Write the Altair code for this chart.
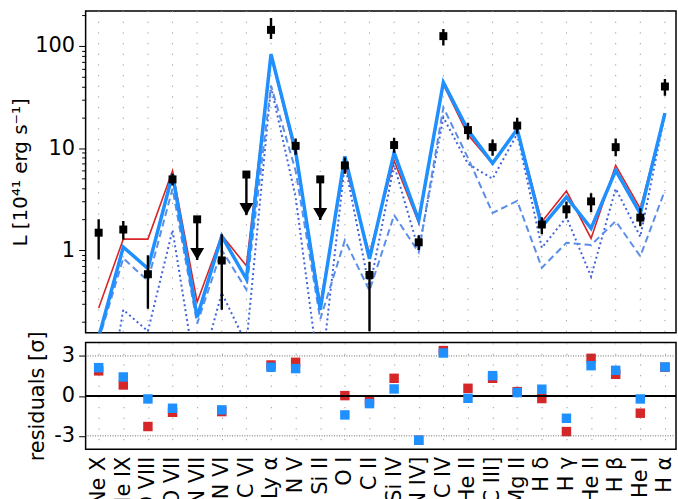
import altair as alt
import pandas as pd

# ---------------- data ----------------
line_names = ["Ne X", "Ne IX", "O VIII", "O VII", "N VII", "N VI", "C VI", "Ly α",
              "N V", "Si II", "O I", "C II", "Si IV", "N IV]", "C IV", "He II",
              "C III]", "Mg II", "H δ", "H γ", "He II", "H β", "He I", "H α"]

# observed luminosities (10^41 erg/s); upper limits flagged
obs_val = [1.48, 1.59, 0.58, 4.93, 2.0, 0.79, 5.5, 144, 10.5, 4.93, 6.75, 0.57,
           10.7, 1.19, 125, 15.0, 10.2, 16.6, 1.78, 2.51, 3.0, 10.2, 2.08, 40.1]
obs_lo = [0.81, 1.27, 0.266, 4.3, None, 0.26, None, 117, 8.6, None, 5.6, 0.16,
          9.0, 1.0, 101, 12.1, 8.4, 13.8, 1.43, 2.05, 2.35, 8.3, 1.71, 32.5]
obs_hi = [2.0, 1.93, 0.89, 5.6, None, 1.43, None, 188, 12.4, None, 8.1, 0.77,
          12.6, 1.4, 147, 17.7, 12.1, 19.8, 2.1, 3.0, 3.6, 12.4, 2.57, 47.5]
upper_limit = [False, False, False, False, True, False, True, False, False, True,
               False, False, False, False, False, False, False, False, False,
               False, False, False, False, False]

# models
model_red = [0.27, 1.28, 1.28, 6.0, 0.31, 1.40, 0.70, 80, 8.5, 0.30, 7.0, 0.92,
             7.5, 1.85, 42, 13.5, 7.0, 15.5, 1.89, 3.79, 1.30, 6.75, 2.55, 22]
model_blue = [0.14, 1.07, 0.66, 5.5, 0.22, 1.37, 0.52, 83, 9.3, 0.26, 8.3, 0.82,
              9.0, 1.96, 44, 15.0, 7.1, 15.3, 1.69, 3.31, 1.63, 6.03, 2.28, 22]
comp_dashed = [0.13, 0.83, 0.50, 4.0, 0.19, 1.0, 0.41, 41, 6.0, 0.21, 1.25, 0.40,
               2.2, 0.95, 25, 8.0, 2.31, 3.03, 0.67, 1.18, 1.12, 1.92, 0.87, 3.85]
comp_dotted = [0.01, 0.26, 0.16, 1.57, 0.05, 0.38, 0.12, 40, 3.3, 0.05, 7.0, 0.42,
               6.8, 1.0, 20, 7.0, 5.0, 13.8, 1.05, 2.1, 0.55, 4.0, 1.35, 21.7]

# residuals [sigma]
res_red = [1.88, 0.82, -2.3, -1.23, None, -1.18, None, 2.32, 2.52, None, 0.02, -0.38,
           1.32, -3.33, 3.4, 0.57, 1.32, 0.32, -0.2, -2.68, 2.82, 1.62, -1.3, 2.15]
res_blue = [2.12, 1.42, -0.23, -0.93, None, -1.05, None, 2.15, 2.05, None, -1.43, -0.58,
            0.52, -3.33, 3.22, -0.18, 1.52, 0.25, 0.5, -1.68, 2.27, 1.92, -0.23, 2.17]

# ---------------- tables ----------------
idx = list(range(len(line_names)))
models = pd.DataFrame({
    "idx": idx * 4,
    "L": model_red + model_blue + comp_dashed + comp_dotted,
    "model": ["red"] * 24 + ["blue"] * 24 + ["dashed"] * 24 + ["dotted"] * 24,
})
obs = pd.DataFrame({"idx": idx, "L": obs_val, "lo": obs_lo, "hi": obs_hi,
                    "lim": upper_limit})
obs["tip"] = [v * 0.4 if l else None for v, l in zip(obs_val, upper_limit)]
det = obs[~obs["lim"]]
lim = obs[obs["lim"]]
res = pd.DataFrame({"idx": idx * 2, "r": res_red + res_blue,
                    "model": ["red"] * 24 + ["blue"] * 24}).dropna()
cats = pd.DataFrame({"idx": idx})

RED = "#d62728"
BLUE = "#1e90ff"
DASH_BLUE = "#5b8ee8"
DOT_BLUE = "#3f63dd"
GRID = "#9a9a9a"
GRID_DASH = [1.2, 9.5]
names_js = "[" + ",".join("'" + n + "'" for n in line_names) + "]"

xscale = alt.Scale(domain=[-0.53, 23.45], nice=False, zero=False)
x_top = alt.X("idx:Q", scale=xscale, axis=None)

W, H1, H2 = 593, 323, 107
FS = 21

# ---------------- top panel ----------------
yvals = [0.2, 0.3, 0.4, 0.5, 0.6, 0.7, 0.8, 0.9, 1, 2, 3, 4, 5, 6, 7, 8, 9, 10,
         20, 30, 40, 50, 60, 70, 80, 90, 100, 200]
yscale = alt.Scale(type="log", domain=[0.155, 220], nice=False)
y_axis = alt.Axis(
    values=yvals,
    labelExpr="indexof([1,10,100], datum.value) >= 0 ? format(datum.value, 'd') : ''",
    tickSize={"condition": {"test": "indexof([1,10,100], datum.value) >= 0", "value": 7}, "value": 4},
    tickColor="black", tickWidth=1, grid=False, domain=False,
    labelFontSize=FS, labelColor="black", labelPadding=4,
    title="L [10⁴¹ erg s⁻¹]", titleFontSize=20, titleFontWeight="normal",
    titleColor="black", titlePadding=4,
)

grid_top = alt.Chart(cats).mark_rule(color=GRID, strokeWidth=1,
                                     strokeDash=GRID_DASH).encode(x=x_top)

def model_line(name, color, width, dash=None):
    kw = dict(color=color, strokeWidth=width, clip=True)
    if dash:
        kw["strokeDash"] = dash
    return alt.Chart(models).transform_filter(
        alt.datum.model == name).mark_line(**kw).encode(
        x=x_top, y=alt.Y("L:Q", scale=yscale, axis=y_axis))

dotted = model_line("dotted", DOT_BLUE, 2, [2, 3])
dashed = model_line("dashed", DASH_BLUE, 2, [7, 4])
red = model_line("red", RED, 1.6)
blue = model_line("blue", BLUE, 3.5)

ebars = alt.Chart(det).mark_rule(color="black", strokeWidth=2.4, clip=True).encode(
    x=x_top, y=alt.Y("lo:Q", scale=yscale), y2="hi:Q")
lim_rules = alt.Chart(lim).mark_rule(color="black", strokeWidth=2.4).encode(
    x=x_top, y=alt.Y("L:Q", scale=yscale), y2="tip:Q")
arrows = alt.Chart(lim).mark_point(shape="triangle-down", filled=True, size=196,
                                   color="black", opacity=1, yOffset=-6).encode(
    x=x_top, y=alt.Y("tip:Q", scale=yscale))
squares = alt.Chart(obs).mark_square(size=64, color="black", opacity=1).encode(
    x=x_top, y=alt.Y("L:Q", scale=yscale))

top = alt.layer(grid_top, dotted, dashed, red, blue, ebars, lim_rules, arrows,
                squares).properties(width=W, height=H1)

# ---------------- bottom panel ----------------
x_bot = alt.X("idx:Q", scale=xscale, axis=alt.Axis(
    values=idx, labelExpr=names_js + "[datum.value]", labelAngle=-90,
    labelAlign="right", labelBaseline="middle", labelFontSize=FS,
    labelColor="black", labelPadding=7, title=None, grid=True,
    gridDash=GRID_DASH, gridColor=GRID, gridWidth=1, ticks=False, domain=False))
rscale = alt.Scale(domain=[-4, 4], nice=False, zero=False)
r_axis = alt.Axis(values=[-3, 0, 3], labelExpr="replace(datum.label, '−', '-')",
                  tickSize=7, tickColor="black", grid=False, domain=False,
                  labelFontSize=FS, labelColor="black", labelPadding=4,
                  title="residuals [σ]", titleFontSize=FS, titleFontWeight="normal",
                  titleColor="black", titlePadding=6)

sig_lines = pd.DataFrame({"r": [-3, 3]})
zero_line = pd.DataFrame({"r": [0]})
dots3 = alt.Chart(sig_lines).mark_rule(color="#555555", strokeWidth=0.9,
                                       strokeDash=[1, 1.5]).encode(
    y=alt.Y("r:Q", scale=rscale, axis=r_axis))
zline = alt.Chart(zero_line).mark_rule(color="black", strokeWidth=2).encode(
    y=alt.Y("r:Q", scale=rscale))
rred = alt.Chart(res).transform_filter(alt.datum.model == "red").mark_square(
    size=90, color=RED, opacity=1).encode(x=x_bot, y=alt.Y("r:Q", scale=rscale, axis=r_axis))
rblue = alt.Chart(res).transform_filter(alt.datum.model == "blue").mark_square(
    size=90, color=BLUE, opacity=1).encode(x=x_bot, y=alt.Y("r:Q", scale=rscale))

bottom = alt.layer(rred, dots3, zline, rblue).properties(width=W, height=H2)

chart = alt.vconcat(top, bottom, spacing=10, bounds="flush").properties(
    padding={"left": 10, "top": 8, "right": 0, "bottom": 0}
).configure(font="DejaVu Sans").configure_view(
    stroke="black", strokeWidth=1.5
).configure_axis(labelFont="DejaVu Sans", titleFont="DejaVu Sans")

chart.save("out.html", embed_options={"renderer": "svg", "actions": False})
